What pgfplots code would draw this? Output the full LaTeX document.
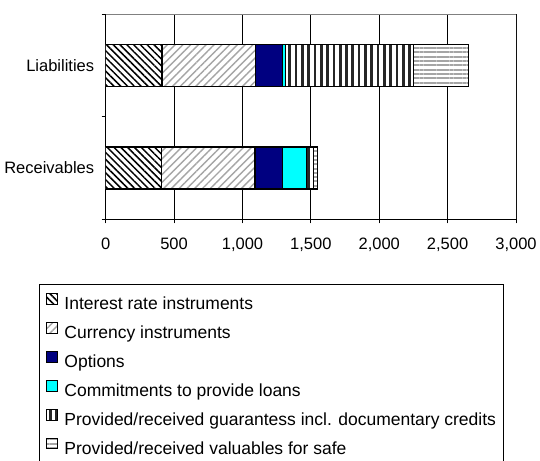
\documentclass[border=0pt]{standalone}
\usepackage{fontspec}
\setmainfont{Liberation Sans}
\usepackage{pgfplots}
\pgfplotsset{compat=1.18}
\usetikzlibrary{patterns.meta}

\definecolor{navy}{RGB}{0,0,128}
\definecolor{aqua}{RGB}{0,255,255}
\definecolor{stripegray}{RGB}{165,165,165}

\begin{document}
\begin{tikzpicture}[x=1bp,y=1bp]
\useasboundingbox (0,0) rectangle (540,-461);
\begin{axis}[
  at={(105.7bp,-219.3bp)}, anchor=south west,
  width=410.3bp, height=205.3bp, scale only axis,
  xbar stacked, bar width=0.41,
  xmin=0, xmax=3000, ymin=-0.5, ymax=1.5,
  xtick={0,500,...,3000},
  ytick={-0.5,0.5,1.5}, yticklabels={},
  extra y ticks={0,1},
  extra y tick labels={Receivables,Liabilities},
  extra y tick style={major tick length=0pt, grid=none,
    yticklabel style={xshift=-8bp}},
  tick align=outside, major tick length=4bp,
  axis lines*=left,
  axis line style={black, line width=0.75bp},
  tick style={black, line width=0.75bp},
  xmajorgrids, grid style={black, line width=0.75bp},
  ticklabel style={font=\fontsize{16.5bp}{19bp}\selectfont},
  xticklabel style={yshift=-11bp},
  /pgf/number format/.cd, 1000 sep={,}, assume math mode=true, /pgfplots/.cd,
  every axis plot/.append style={draw=black, line width=1.2bp},
  legend image code/.code={\draw[#1, line width=0.75bp] (0bp,1bp) rectangle (10.7bp,11.7bp);},
  legend style={at={(-0.1626,-0.3151)}, anchor=north west,
    draw=black, line width=0.75bp, inner xsep=7bp, inner ysep=9bp,
    font=\fontsize{17.5bp}{21bp}\selectfont,
    nodes={inner sep=0pt, text height=12.5bp, text depth=3.5bp},
    row sep=8.8bp, column sep=6.6bp},
  legend cell align=left,
]
\addplot[fill=white, postaction={pattern={Lines[angle=-45,distance=4.8bp,line width=1.5bp]}, pattern color=black}]
  coordinates {(408,0) (412,1)};
\addlegendentry{Interest rate instruments}
\addplot[fill=white, postaction={pattern={Lines[angle=45,distance=5.5bp,line width=1.4bp]}, pattern color=stripegray}]
  coordinates {(684,0) (686,1)};
\addlegendentry{Currency instruments}
\addplot[fill=navy]
  coordinates {(199,0) (197,1)};
\addlegendentry{Options}
\addplot[fill=aqua]
  coordinates {(179,0) (22,1)};
\addlegendentry{Commitments to provide loans}
\addplot[fill=white, postaction={pattern={Lines[angle=90,distance=6.3bp,line width=2.7bp]}, pattern color=black!85}]
  coordinates {(50,0) (932,1)};
\addlegendentry{Provided/received guarantess incl. documentary credits}
\addplot[fill=white, postaction={pattern={Lines[angle=0,distance=4.3bp,line width=2bp]}, pattern color=stripegray}]
  coordinates {(30,0) (405,1)};
\addlegendentry{Provided/received valuables for safe}
\draw[gray, line width=0.75bp] (rel axis cs:0,1) -- (rel axis cs:1,1) -- (rel axis cs:1,0);
\end{axis}
\end{tikzpicture}
\end{document}
